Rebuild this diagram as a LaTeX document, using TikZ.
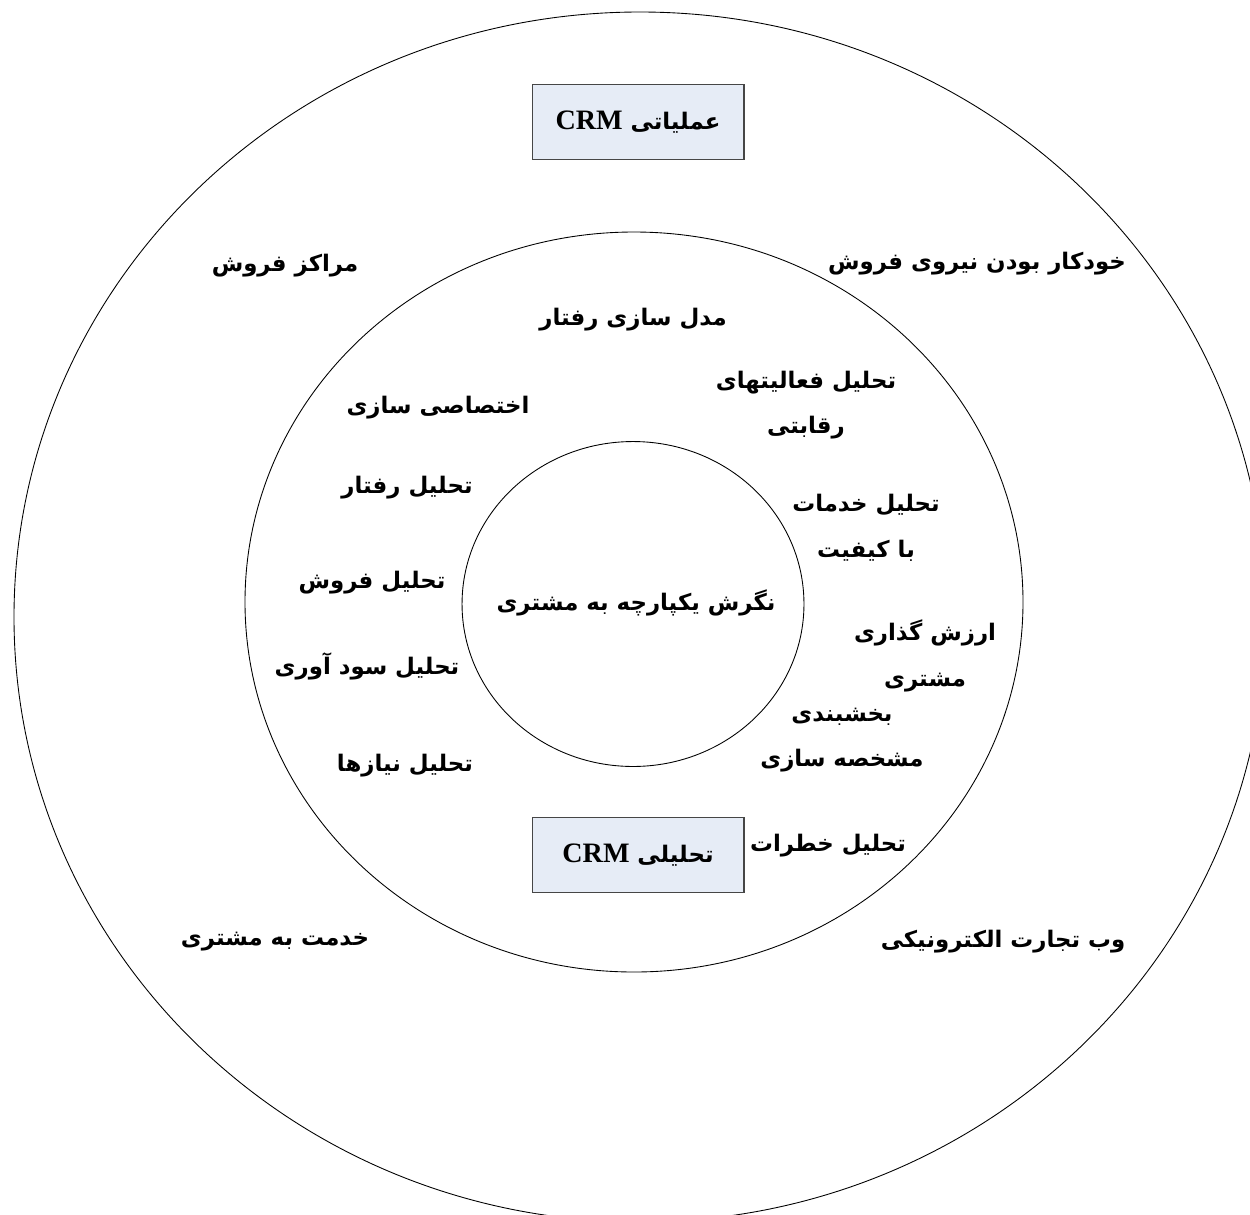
\documentclass[tikz,border=0pt]{standalone}
\usepackage{fontspec}
\newfontfamily\farsifont[Script=Arabic]{DejaVu Sans}
\newfontfamily\latfont{Liberation Serif}
\TeXXeTstate=1
\usetikzlibrary{shapes.geometric, positioning}

\newcommand{\fa}[1]{\beginR #1\endR}
\newcommand{\crm}{{\latfont\fontsize{16}{18}\selectfont\beginL CRM\endL}}

\definecolor{boxfill}{RGB}{230,236,246}
\definecolor{boxline}{RGB}{70,70,70}

\begin{document}
\begin{tikzpicture}[x=0.02cm, y=-0.02cm,
    every node/.style={font=\farsifont\bfseries\fontsize{13}{26}\selectfont, align=center, inner sep=0pt},
    ring/.style={draw, line width=0.5pt},
    crmbox/.style={draw=boxline, fill=boxfill, line width=0.6pt, minimum width=4.24cm, minimum height=1.5cm}]
  \useasboundingbox (0,0) rectangle (1250,1214);
  \clip (0,0) rectangle (1250,1214);

  % rings
  \draw[ring] (640,617) ellipse [x radius=626, y radius=605];
  \draw[ring] (634,602) ellipse [x radius=389, y radius=370];
  \node (core) [ellipse, draw, line width=0.5pt, minimum width=6.84cm, minimum height=6.5cm] at (633,604) {};
  \node (coretext) at (636,603) {\fa{نگرش یکپارچه به مشتری}};

  % CRM boxes
  \node (ops) [crmbox] at (638,122) {\fa{عملیاتی \crm}};
  \node (analytic) [crmbox] at (638,855) {\fa{تحلیلی \crm}};

  % outer ring
  \node (sales) at (285,266) {\fa{مراکز فروش}};
  \node (auto) at (977,264) {\fa{خودکار بودن نیروی فروش}};
  \node (service) at (275,942) {\fa{خدمت به مشتری}};
  \node (web) at (1003,942) {\fa{وب تجارت الکترونیکی}};

  % middle ring
  \node (model) at (633,320) {\fa{مدل سازی رفتار}};
  \node (compet) at (806,405) {\fa{تحلیل فعالیتهای}\\\fa{رقابتی}};
  \node (custom) at (438,408) {\fa{اختصاصی سازی}};
  \node (behav) at (407,488) {\fa{تحلیل رفتار}};
  \node (quality) at (866,528) {\fa{تحلیل خدمات}\\\fa{با کیفیت}};
  \node (salesan) at (372,583) {\fa{تحلیل فروش}};
  \node (value) at (925,656) {\fa{ارزش گذاری}\\\fa{مشتری}};
  \node (profit) at (367,666) {\fa{تحلیل سود آوری}};
  \node (segment) at (842,740) {\fa{بخشبندی}\\\fa{مشخصه سازی}};
  \node (needs) at (405,766) {\fa{تحلیل نیازها}};
  \node (risk) at (828,846) {\fa{تحلیل خطرات}};
\end{tikzpicture}
\end{document}
